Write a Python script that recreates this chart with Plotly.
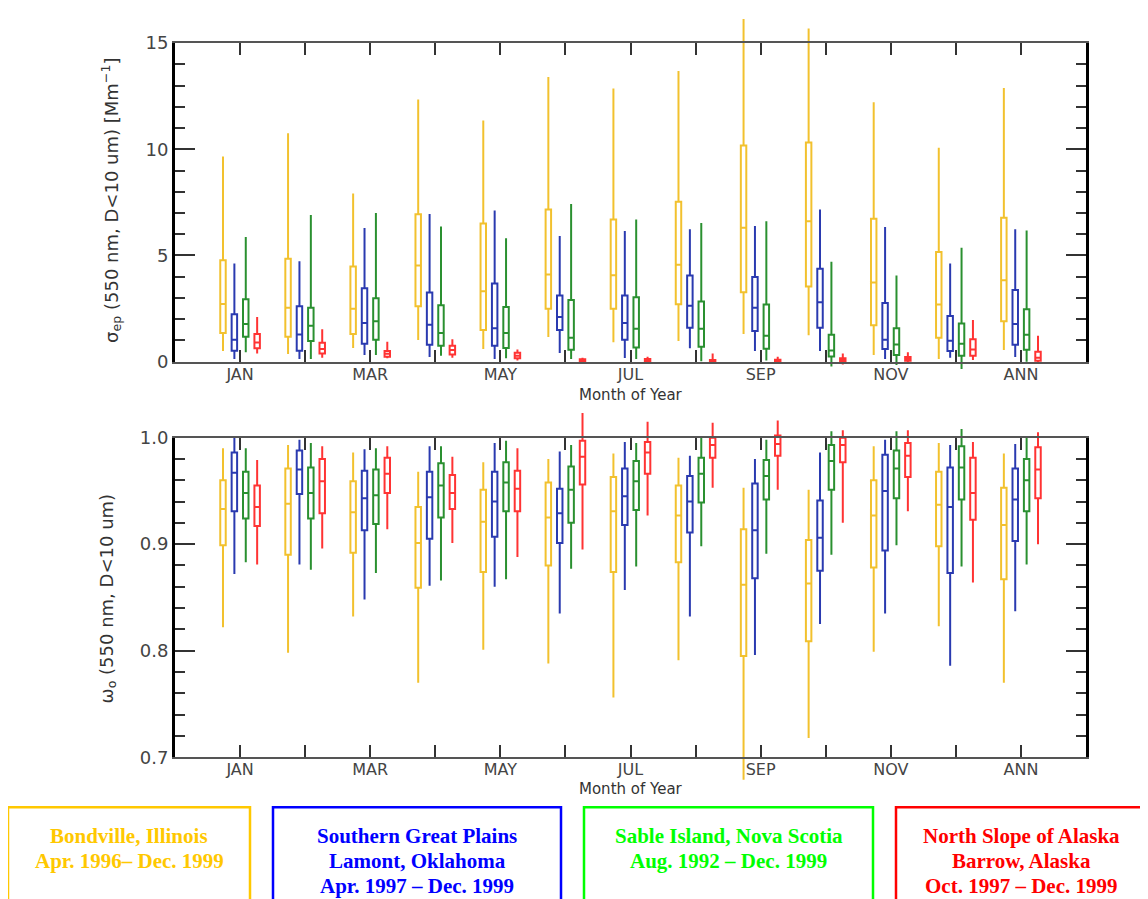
import plotly.graph_objects as go

W, H = 1148, 899

months = ["JAN", "FEB", "MAR", "APR", "MAY", "JUN", "JUL", "AUG", "SEP", "OCT", "NOV", "DEC", "ANN"]
tick_labels = ["JAN", "", "MAR", "", "MAY", "", "JUL", "", "SEP", "", "NOV", "", "ANN"]

# ---- sigma_ep (550 nm, D<10 um) [Mm^-1] ----
bond_sig_low = [0.50, 0.36, 0.64, 1.02, 0.60, 1.16, 0.92, 0.97, 1.30, 1.25, 0.31, 0.13, 0.55]
bond_sig_q1 = [1.35, 1.17, 1.30, 2.61, 1.49, 2.49, 2.49, 2.71, 3.27, 3.54, 1.72, 1.13, 1.91]
bond_sig_med = [2.72, 2.54, 2.49, 4.53, 3.32, 4.10, 4.07, 4.56, 6.31, 6.61, 3.73, 2.69, 3.84]
bond_sig_q3 = [4.78, 4.85, 4.48, 6.94, 6.51, 7.17, 6.70, 7.53, 10.18, 10.32, 6.73, 5.17, 6.78]
bond_sig_high = [9.66, 10.76, 7.92, 12.34, 11.35, 13.40, 12.86, 13.69, 16.21, 15.69, 12.21, 10.07, 12.89]

sgp_sig_low = [0.13, 0.13, 0.31, 0.22, 0.13, 0.41, 0.17, 0.63, 0.50, 0.50, 0.13, 0.19, 0.22]
sgp_sig_q1 = [0.52, 0.52, 0.85, 0.80, 0.75, 1.49, 1.03, 1.60, 1.44, 1.60, 0.60, 0.50, 0.80]
sgp_sig_med = [1.03, 1.28, 1.82, 1.74, 1.58, 2.10, 1.82, 2.63, 2.54, 2.80, 1.03, 0.99, 1.77]
sgp_sig_q3 = [2.24, 2.61, 3.46, 3.26, 3.68, 3.12, 3.12, 4.06, 3.99, 4.38, 2.76, 2.15, 3.37]
sgp_sig_high = [4.62, 4.73, 6.29, 6.95, 7.12, 5.92, 6.15, 6.23, 6.39, 7.17, 6.34, 4.62, 6.23]

sable_sig_low = [0.44, 0.13, 0.31, 0.28, 0.16, 0.13, 0.13, 0.02, 0.06, -0.23, -0.16, -0.34, 0.00]
sable_sig_q1 = [1.17, 0.97, 1.03, 0.75, 0.64, 0.56, 0.67, 0.70, 0.61, 0.25, 0.31, 0.28, 0.56]
sable_sig_med = [1.78, 1.69, 1.91, 1.35, 1.35, 1.13, 1.55, 1.55, 1.22, 0.53, 0.81, 0.85, 1.27]
sable_sig_q3 = [2.94, 2.54, 2.99, 2.66, 2.57, 2.90, 3.04, 2.83, 2.69, 1.27, 1.58, 1.80, 2.47]
sable_sig_high = [5.87, 6.91, 7.00, 6.37, 5.81, 7.42, 6.70, 6.53, 6.61, 4.71, 4.06, 5.36, 6.18]

nsa_sig_low = [0.39, 0.19, 0.16, 0.19, 0.06, 0.00, 0.00, 0.00, 0.00, -0.13, -0.03, 0.08, -0.03]
nsa_sig_q1 = [0.63, 0.39, 0.23, 0.34, 0.16, 0.02, 0.02, 0.03, 0.03, 0.02, 0.05, 0.28, 0.05]
nsa_sig_med = [0.91, 0.60, 0.38, 0.55, 0.28, 0.06, 0.08, 0.06, 0.06, 0.08, 0.14, 0.58, 0.19]
nsa_sig_q3 = [1.30, 0.89, 0.50, 0.75, 0.42, 0.11, 0.13, 0.08, 0.09, 0.16, 0.22, 1.06, 0.47]
nsa_sig_high = [2.11, 1.53, 0.94, 1.06, 0.58, 0.19, 0.23, 0.39, 0.23, 0.39, 0.44, 1.96, 1.22]

# ---- omega_o (550 nm, D<10 um) ----
bond_w_low = [0.822, 0.798, 0.832, 0.770, 0.801, 0.788, 0.756, 0.791, 0.679, 0.718, 0.799, 0.823, 0.770]
bond_w_q1 = [0.899, 0.890, 0.892, 0.859, 0.874, 0.880, 0.874, 0.883, 0.795, 0.809, 0.878, 0.898, 0.867]
bond_w_med = [0.933, 0.938, 0.930, 0.901, 0.921, 0.925, 0.931, 0.927, 0.862, 0.863, 0.927, 0.937, 0.918]
bond_w_q3 = [0.960, 0.971, 0.959, 0.935, 0.951, 0.958, 0.963, 0.955, 0.914, 0.904, 0.960, 0.968, 0.953]
bond_w_high = [0.990, 0.993, 0.986, 0.968, 0.977, 0.980, 0.985, 0.981, 0.953, 0.951, 0.992, 0.995, 0.985]

sgp_w_low = [0.872, 0.881, 0.848, 0.861, 0.860, 0.835, 0.857, 0.832, 0.796, 0.825, 0.835, 0.786, 0.837]
sgp_w_q1 = [0.931, 0.947, 0.913, 0.905, 0.907, 0.901, 0.918, 0.911, 0.868, 0.875, 0.894, 0.873, 0.903]
sgp_w_med = [0.967, 0.970, 0.943, 0.944, 0.940, 0.929, 0.945, 0.940, 0.913, 0.906, 0.950, 0.935, 0.942]
sgp_w_q3 = [0.986, 0.988, 0.969, 0.968, 0.968, 0.952, 0.971, 0.964, 0.957, 0.941, 0.984, 0.972, 0.971]
sgp_w_high = [1.000, 0.998, 0.989, 0.992, 0.995, 0.987, 0.996, 0.983, 0.980, 0.986, 0.998, 0.993, 0.994]

sable_w_low = [0.883, 0.876, 0.873, 0.866, 0.867, 0.877, 0.879, 0.898, 0.891, 0.890, 0.899, 0.879, 0.881]
sable_w_q1 = [0.924, 0.924, 0.919, 0.925, 0.931, 0.920, 0.932, 0.939, 0.942, 0.951, 0.943, 0.942, 0.931]
sable_w_med = [0.948, 0.948, 0.946, 0.955, 0.958, 0.951, 0.959, 0.966, 0.964, 0.978, 0.971, 0.972, 0.960]
sable_w_q3 = [0.968, 0.972, 0.970, 0.976, 0.977, 0.973, 0.978, 0.981, 0.979, 0.993, 0.988, 0.992, 0.980]
sable_w_high = [0.990, 0.995, 0.990, 0.992, 0.997, 0.993, 0.995, 1.000, 0.998, 1.006, 1.006, 1.008, 1.000]

nsa_w_low = [0.881, 0.896, 0.914, 0.901, 0.888, 0.895, 0.927, 0.953, 0.951, 0.920, 0.931, 0.864, 0.900]
nsa_w_q1 = [0.917, 0.929, 0.948, 0.933, 0.931, 0.956, 0.966, 0.981, 0.983, 0.977, 0.963, 0.923, 0.943]
nsa_w_med = [0.935, 0.959, 0.966, 0.948, 0.952, 0.982, 0.986, 0.993, 0.994, 0.993, 0.983, 0.948, 0.970]
nsa_w_q3 = [0.955, 0.980, 0.981, 0.965, 0.969, 0.997, 0.996, 1.000, 1.002, 1.000, 0.995, 0.981, 0.991]
nsa_w_high = [0.979, 0.992, 0.992, 0.982, 0.990, 1.023, 1.015, 1.014, 1.016, 1.007, 1.007, 0.996, 1.005]

station_names = ["Bondville", "SGP", "Sable Island", "NSA"]
box_colors = ["#F2C12E", "#2A3AB0", "#2A9030", "#FF3333"]
legend_colors = ["#FFC800", "#0000FF", "#00FF00", "#FF0000"]
legend_lines = [
    ["Bondville, Illinois", "Apr. 1996– Dec. 1999"],
    ["Southern Great Plains", "Lamont, Oklahoma", "Apr. 1997 – Dec. 1999"],
    ["Sable Island, Nova Scotia", "Aug. 1992 – Dec. 1999"],
    ["North Slope of Alaska", "Barrow, Alaska", "Oct. 1997 – Dec. 1999"],
]

sigma_sets = [
    (bond_sig_low, bond_sig_q1, bond_sig_med, bond_sig_q3, bond_sig_high),
    (sgp_sig_low, sgp_sig_q1, sgp_sig_med, sgp_sig_q3, sgp_sig_high),
    (sable_sig_low, sable_sig_q1, sable_sig_med, sable_sig_q3, sable_sig_high),
    (nsa_sig_low, nsa_sig_q1, nsa_sig_med, nsa_sig_q3, nsa_sig_high),
]
omega_sets = [
    (bond_w_low, bond_w_q1, bond_w_med, bond_w_q3, bond_w_high),
    (sgp_w_low, sgp_w_q1, sgp_w_med, sgp_w_q3, sgp_w_high),
    (sable_w_low, sable_w_q1, sable_w_med, sable_w_q3, sable_w_high),
    (nsa_w_low, nsa_w_q1, nsa_w_med, nsa_w_q3, nsa_w_high),
]

xpos = list(range(1, len(months) + 1))

# ---------- geometry: target screen pixels -> paper fractions ----------
# the page shows the figure shifted/squeezed slightly; compensate
OX, OY = 8.0, 16.9
PAPER_H_SCREEN = 879.0


def px_x(sx):
    return (sx - OX) / W


def px_y(sy):
    return 1 - (sy - OY) / PAPER_H_SCREEN


X_LEFT, X_RIGHT = 175, 1086
xdom = [px_x(X_LEFT), px_x(X_RIGHT)]

TOP_PX = (41, 360)      # screen pixel of 15 and of 0
BOT_PX = (436, 756)     # screen pixel of 1.0 and of 0.7
top_frame = (0, 15)
bot_frame = (0.7, 1.0)


def frame_domain(px):
    return [px_y(px[1]), px_y(px[0])]


def data_axis(px, frame, top_sy, bot_sy):
    ppu = (px[1] - px[0]) / (frame[1] - frame[0])
    r_hi = frame[1] + (px[0] - top_sy) / ppu
    r_lo = frame[0] - (bot_sy - px[1]) / ppu
    return [px_y(bot_sy), min(1.0, px_y(top_sy))], [r_lo, r_hi]


top_dom, top_rng = data_axis(TOP_PX, top_frame, OY + 0.01, 378)
bot_dom, bot_rng = data_axis(BOT_PX, bot_frame, 399, 792)

fig = go.Figure()

for sets, xa, ya in [(sigma_sets, "x", "y"), (omega_sets, "x2", "y2")]:
    for name, col, (lo, q1, med, q3, hi) in zip(station_names, box_colors, sets):
        fig.add_trace(go.Box(
            x=xpos, q1=q1, median=med, q3=q3, lowerfence=lo, upperfence=hi,
            name=name, xaxis=xa, yaxis=ya, showlegend=False,
            line=dict(color=col, width=2), fillcolor="rgba(0,0,0,0)",
            whiskerwidth=0, boxpoints=False, offsetgroup=name,
        ))

# empty traces so that the frame axes exist
fig.add_trace(go.Scatter(x=[], y=[], xaxis="x3", yaxis="y3", showlegend=False))
fig.add_trace(go.Scatter(x=[], y=[], xaxis="x4", yaxis="y4", showlegend=False))

tick_font = dict(family="DejaVu Sans, sans-serif", size=16, color="#444")

data_x = dict(domain=xdom, range=[0, 14], visible=False, fixedrange=True)
frame_x = dict(
    domain=xdom, range=[0, 14], tickmode="array", tickvals=xpos, ticktext=tick_labels,
    ticks="inside", ticklen=12, tickwidth=2, tickcolor="#333",
    showline=True, linecolor="#555", linewidth=2, mirror="ticks",
    showgrid=False, zeroline=False, tickfont=tick_font, ticklabelstandoff=-3,
)

fig.update_layout(
    width=W, height=H, autosize=False,
    margin=dict(l=0, r=0, t=0, b=0),
    paper_bgcolor="white", plot_bgcolor="rgba(0,0,0,0)",
    boxmode="group", boxgap=0.30, boxgroupgap=0.52,
    showlegend=False,
    xaxis=dict(data_x, anchor="y"),
    yaxis=dict(domain=top_dom, range=top_rng, visible=False, anchor="x", fixedrange=True),
    xaxis2=dict(data_x, anchor="y2"),
    yaxis2=dict(domain=bot_dom, range=bot_rng, visible=False, anchor="x2", fixedrange=True),
    xaxis3=dict(frame_x, anchor="y3"),
    yaxis3=dict(
        domain=frame_domain(TOP_PX), range=list(top_frame), anchor="x3",
        tickmode="array", tickvals=[0, 5, 10, 15],
        ticks="inside", ticklen=20, tickwidth=1.5, tickcolor="#333",
        minor=dict(ticks="inside", ticklen=10, tickwidth=1.5, tickcolor="#333", dtick=1, showgrid=False),
        showline=True, linecolor="black", linewidth=3, mirror="ticks",
        showgrid=False, zeroline=False, tickfont=dict(tick_font, size=18),
    ),
    xaxis4=dict(frame_x, anchor="y4"),
    yaxis4=dict(
        domain=frame_domain(BOT_PX), range=list(bot_frame), anchor="x4",
        tickmode="array", tickvals=[0.7, 0.8, 0.9, 1.0], tickformat=".1f",
        ticks="inside", ticklen=20, tickwidth=1.5, tickcolor="#333",
        minor=dict(ticks="inside", ticklen=10, tickwidth=1.5, tickcolor="#333", dtick=0.02, showgrid=False),
        showline=True, linecolor="black", linewidth=3, mirror="ticks",
        showgrid=False, zeroline=False, tickfont=dict(tick_font, size=18),
    ),
)

title_font = dict(family="DejaVu Sans, sans-serif", size=18, color="#333")
ann = [
    dict(text="σ<sub>ep</sub> (550 nm, D&lt;10 um) [Mm<sup>−1</sup>]", x=px_x(111), y=px_y(199),
         textangle=-90, font=title_font),
    dict(text="ω<sub>o</sub> (550 nm, D&lt;10 um)", x=px_x(108), y=px_y(597),
         textangle=-90, font=title_font),
    dict(text="Month of Year", x=px_x(631), y=px_y(393), font=dict(title_font, size=15)),
    dict(text="Month of Year", x=px_x(631), y=px_y(788), font=dict(title_font, size=15)),
]

# legend boxes at the bottom
box_px = [(8, 250), (273, 561), (584, 873), (896, 1170)]
line_y = [835, 860, 885]
shapes = []
for (x0, x1), col, lines in zip(box_px, legend_colors, legend_lines):
    shapes.append(dict(type="rect", xref="paper", yref="paper",
                       x0=px_x(x0), x1=px_x(x1), y0=-0.05, y1=px_y(806),
                       line=dict(color=col, width=2.5), fillcolor="rgba(0,0,0,0)"))
    cx = (x0 + x1) / 2 if x1 <= W else (x0 + 1146) / 2
    for ly, txt in zip(line_y, lines):
        ann.append(dict(text=f"<b>{txt}</b>", x=px_x(cx), y=px_y(ly),
                        font=dict(family="Liberation Serif, Times New Roman, serif", size=21, color=col)))

for a in ann:
    a.update(xref="paper", yref="paper", showarrow=False, xanchor="center", yanchor="middle")

fig.update_layout(annotations=ann, shapes=shapes)

fig.write_html("out.html")
